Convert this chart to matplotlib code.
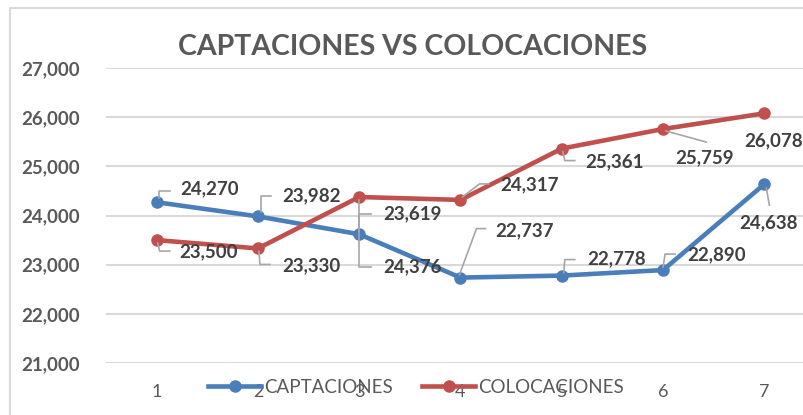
import numpy as np
import matplotlib.pyplot as plt
import matplotlib.patches as mpatches
import matplotlib.transforms as mtransforms

# datos
periodos = [1, 2, 3, 4, 5, 6, 7]
captaciones = [24270, 23982, 23619, 22737, 22778, 22890, 24638]
colocaciones = [23500, 23330, 24376, 24317, 25361, 25759, 26078]
y_ticks = [21000, 22000, 23000, 24000, 25000, 26000, 27000]
titulo = 'CAPTACIONES VS COLOCACIONES'

# posicion de las etiquetas (offset en pixeles desde el punto) y lineas guia
lab_cap = [(24, 13), (24, 21), (24, 20), (35, 47), (25, 17), (24, 15), (-25, -39)]
lead_cap = [[(2, 4), (2, 11), (13, 11)],
            [(3, 4), (3, 20), (13, 20)],
            [(0, 3), (0, 20), (12, 20)],
            [(-1, 3), (16, 49), (25, 49)],
            [(2, 3), (3, 16), (13, 16)],
            [(0, 3), (2, 16), (12, 16)],
            [(2, -4), (5, -21)]]
lab_col = [(23, -12), (24, -17), (24, -70), (40, 15), (23, -13), (12, -29), (-20, -27)]
lead_col = [[(1, -3), (3, -11), (13, -11)],
            [(1, -3), (2, -16), (12, -16)],
            [(0, -3), (0, -70), (12, -70)],
            [(2, 3), (19, 16), (28, 16)],
            [(1, -3), (3, -12), (13, -12)],
            [(3, -2), (43, -13)],
            []]

azul = '#4a7ebb'
rojo = '#c0504d'
gris_txt = '#595959'
gris_lab = '#404040'
gris_grid = '#d9d9d9'

plt.rcParams['font.family'] = ['Lato', 'DejaVu Sans']

fig = plt.figure(figsize=(8.04, 4.15), dpi=100)
W, H = 804, 415
ax = fig.add_axes([106 / W, (H - 363) / H, 709 / W, 295 / H])

ax.plot(periodos, captaciones, color=azul, lw=3.3, marker='o', ms=8,
        label='CAPTACIONES', zorder=3)
ax.plot(periodos, colocaciones, color=rojo, lw=3.3, marker='o', ms=8,
        label='COLOCACIONES', zorder=3)

ax.set_xlim(0.5, 7.5)
ax.set_ylim(21000, 27000)
ax.set_yticks(y_ticks)
ax.set_yticklabels([f'{v:,}' for v in y_ticks], fontweight='bold',
                   color=gris_txt, fontsize=13.5)
ax.set_xticks(periodos)
ax.set_xticklabels([str(p) for p in periodos], color=gris_txt, fontsize=13)
ax.tick_params(axis='both', length=0)
ax.tick_params(axis='y', pad=19)
ax.tick_params(axis='x', pad=15)
ax.grid(axis='y', color=gris_grid, lw=1.5)
ax.set_axisbelow(True)
for s in ax.spines.values():
    s.set_visible(False)


def etiquetas(vals, labs, leads):
    for x, v, (dx, dy), lead in zip(periodos, vals, labs, leads):
        ax.annotate(f'{v:,}', (x, v), xytext=(dx, dy), textcoords='offset pixels',
                    ha='left', va='center', fontsize=13.5, fontweight='bold',
                    color=gris_lab, annotation_clip=False, zorder=5)
        if lead:
            px, py = ax.transData.transform((x, v))
            tr = mtransforms.Affine2D().translate(px, py)
            xs = [p[0] for p in lead]
            ys = [p[1] for p in lead]
            ax.plot(xs, ys, color='#a6a6a6', lw=1.2, transform=tr,
                    clip_on=False, zorder=4)


etiquetas(captaciones, lab_cap, lead_cap)
etiquetas(colocaciones, lab_col, lead_col)

fig.text(413 / W, 1 - 47 / H, titulo, ha='center', va='center',
         fontsize=20.5, fontweight='bold', color=gris_txt)

leg = fig.legend(loc='center', bbox_to_anchor=(416 / W, 1 - 387 / H), ncol=2,
                 frameon=False, fontsize=13.5, handlelength=2.8,
                 handletextpad=0.15, columnspacing=1.6, borderpad=0)
for t in leg.get_texts():
    t.set_color(gris_txt)

# borde del area del grafico
fig.add_artist(mpatches.Rectangle((10 / W, -0.1), 1.2, 1.1 - 8 / H,
                                  transform=fig.transFigure, fill=False,
                                  edgecolor=gris_grid, lw=1.5))

fig.savefig('out.png', dpi=100)
